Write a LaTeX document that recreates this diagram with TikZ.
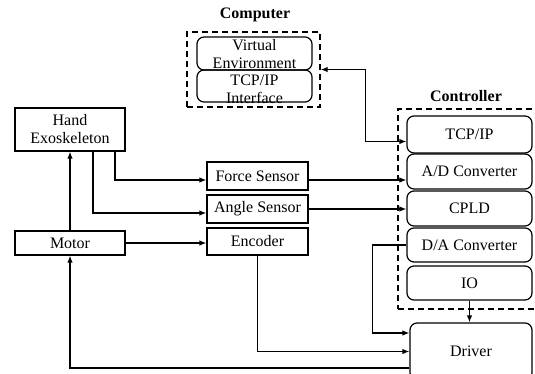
\documentclass[tikz,border=0pt]{standalone}
\usepackage{fontspec}
\setmainfont{Liberation Serif}
\usetikzlibrary{arrows.meta}
\begin{document}
\begin{tikzpicture}[x=1pt,y=-1pt,
  font=\fontsize{16}{18}\selectfont,
  sqbox/.style={draw,line width=1.2pt,inner sep=0pt,align=center},
  rbox/.style={draw,line width=1.2pt,rounded corners=7pt,inner sep=0pt,align=center},
  group/.style={draw,line width=1.3pt,dash pattern=on 6pt off 4pt,inner sep=0pt},
  grouplabel/.style={inner sep=0pt,font=\fontsize{16}{18}\selectfont\bfseries},
  conn/.style={line width=1.3pt,-{Latex[length=7pt,width=5.5pt]}},
  biconn/.style={line width=1.3pt,{Latex[length=7pt,width=5.5pt]}-{Latex[length=7pt,width=5.5pt]}},
  plain/.style={inner sep=0pt,align=center}]
\useasboundingbox (0,0) rectangle (535,373);
\clip (0,0) rectangle (535,373);

% computer group
\node[grouplabel] (complabel) at (255,15) {Computer};
\node[group,minimum width=133pt,minimum height=75pt] (comp) at (253.5,69.5) {};
\node[rbox,minimum width=115pt,minimum height=33pt] (venv) at (254.5,53.5) {};
\node[plain] at (254.5,54) {Virtual\\Environment};
\node[rbox,minimum width=115pt,minimum height=32pt] (tcpif) at (254.5,86) {};
\node[plain] at (254.5,89) {TCP/IP\\Interface};

% controller group
\node[grouplabel] (ctrllabel) at (466,96) {Controller};
\node[group,minimum width=142pt,minimum height=200pt] (ctrl) at (469,209) {};
\node[rbox,minimum width=125pt,minimum height=37pt] (tcp) at (469.5,134.5) {TCP/IP};
\node[rbox,minimum width=125pt,minimum height=35pt] (ad) at (469.5,171.5) {A/D Converter};
\node[rbox,minimum width=125pt,minimum height=35pt] (cpld) at (469.5,208.5) {CPLD};
\node[rbox,minimum width=125pt,minimum height=34pt] (da) at (469.5,245) {D/A Converter};
\node[rbox,minimum width=125pt,minimum height=34pt] (io) at (469.5,283) {IO};

\node[rbox,minimum width=122pt,minimum height=57pt] (driver) at (471,351.5) {Driver};

% mechanics and sensors
\node[sqbox,minimum width=110pt,minimum height=43pt] (hand) at (70,129.5) {Hand\\Exoskeleton};
\node[sqbox,minimum width=110pt,minimum height=24pt] (motor) at (70,243) {Motor};
\node[sqbox,minimum width=101pt,minimum height=28pt] (force) at (257.5,176) {Force Sensor};
\node[sqbox,minimum width=101pt,minimum height=28pt] (angle) at (257.5,209) {Angle Sensor};
\node[sqbox,minimum width=101pt,minimum height=27pt] (encoder) at (257.5,241.5) {Encoder};

% connections
\draw[biconn] (comp.east) -- ++(45,0) |- ([yshift=-7pt]tcp.west);
\draw[conn] ([xshift=45pt]hand.south) |- ([yshift=-4pt]force.west);
\draw[conn] ([xshift=23pt]hand.south) |- ([yshift=-4pt]angle.west);
\draw[conn] (motor.north) -- (hand.south);
\draw[conn] (motor.east) -- (motor.east -| encoder.west);
\draw[conn] ([yshift=-4pt]force.east) -- ([yshift=-4pt]force.east -| ad.west);
\draw[conn] (angle.east) -- (angle.east -| cpld.west);
\draw[conn] (da.west) -- ++(-34,0) |- ([yshift=18.5pt]driver.west);
\draw[conn] (encoder.south) |- (driver.west);
\draw[conn] (io.south) -- (io.south |- driver.north);
\draw[conn] ([yshift=-16.5pt]driver.west) -| (motor.south);
\end{tikzpicture}
\end{document}
